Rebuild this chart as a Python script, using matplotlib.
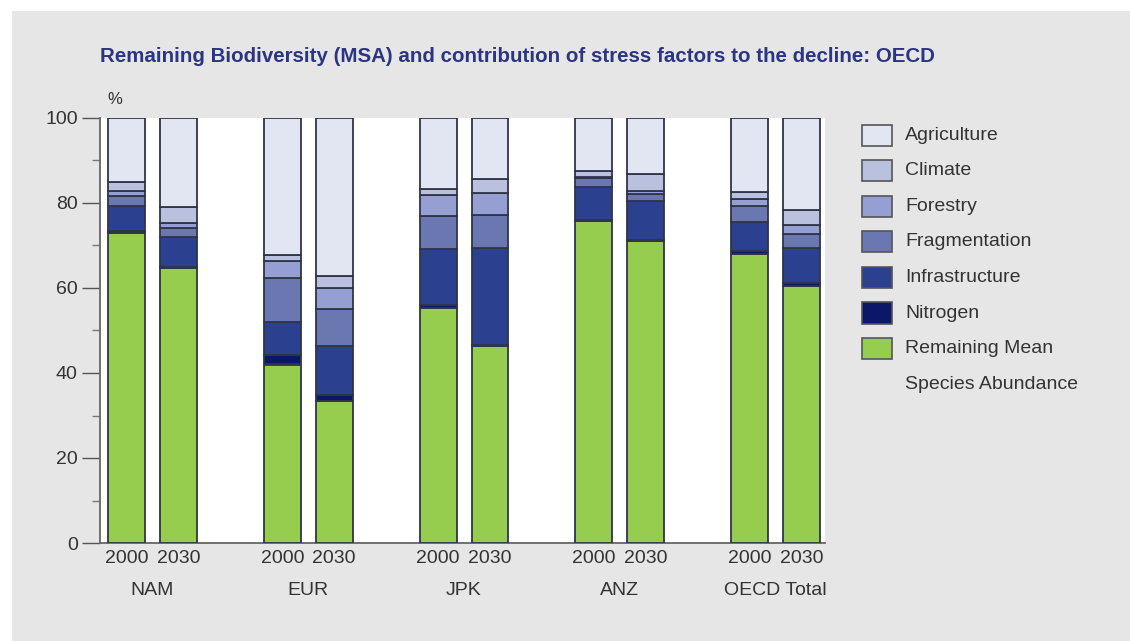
import matplotlib
matplotlib.use("Agg")
import matplotlib.pyplot as plt
from matplotlib.patches import Rectangle
from matplotlib.ticker import MultipleLocator
import numpy as np

plt.rcParams['font.family'] = ['Liberation Sans', 'DejaVu Sans']

# Regions and scenario years
regions = ["NAM", "EUR", "JPK", "ANZ", "OECD Total"]
years = ["2000", "2030"]

# Contribution of each component (% of original MSA), one value per bar:
# NAM 2000, NAM 2030, EUR 2000, EUR 2030, JPK 2000, JPK 2030, ANZ 2000, ANZ 2030, OECD 2000, OECD 2030
remaining_msa = [72.9, 64.6, 42.0, 33.5, 55.4, 46.3, 75.7, 71.0, 68.1, 60.5]
nitrogen = [0.5, 0.4, 2.3, 1.4, 0.6, 0.4, 0.3, 0.3, 0.6, 0.6]
infrastructure = [5.9, 7.0, 7.8, 11.4, 13.1, 22.8, 7.7, 9.1, 6.8, 8.3]
fragmentation = [2.4, 2.0, 10.2, 8.8, 7.8, 7.6, 2.1, 1.8, 3.8, 3.4]
forestry = [1.2, 1.4, 4.0, 5.0, 4.9, 5.2, 0.4, 0.7, 1.7, 2.1]
climate = [2.0, 3.7, 1.4, 2.8, 1.4, 3.4, 1.4, 4.0, 1.7, 3.4]
agriculture = [15.1, 20.9, 32.3, 37.1, 16.8, 14.3, 12.4, 13.1, 17.3, 21.7]

series = [
    ("Remaining Mean\nSpecies Abundance", remaining_msa, "#97cd4f"),
    ("Nitrogen", nitrogen, "#0b1868"),
    ("Infrastructure", infrastructure, "#2b4190"),
    ("Fragmentation", fragmentation, "#6a77b0"),
    ("Forestry", forestry, "#959fd1"),
    ("Climate", climate, "#bac1df"),
    ("Agriculture", agriculture, "#e2e6f3"),
]

W, H = 1130, 641
fig = plt.figure(figsize=(W / 100, H / 100), dpi=100, facecolor="white")

# grey panel behind everything
fig.add_artist(Rectangle((12 / W, 0), 1 - 12 / W, 1 - 11 / H,
                         transform=fig.transFigure, facecolor="#e6e6e6",
                         edgecolor="none", zorder=-10))

ax = fig.add_axes([100 / W, 1 - 543 / H, (825 - 100) / W, (543 - 118) / H])
ax.set_facecolor("white")

# bar positions: pairs of years, groups spaced three units apart
positions = []
for g in range(len(regions)):
    positions += [3 * g - 0.5, 3 * g + 0.5]
positions = np.array(positions)

bottom = np.zeros(len(positions))
for name, vals, col in series:
    vals = np.array(vals)
    ax.bar(positions, vals, bottom=bottom, width=0.71, color=col,
           edgecolor="#2f3548", linewidth=1.3, zorder=3)
    bottom += vals

ax.set_xlim(-1.01, 12.95)
ax.set_ylim(0, 100)
ax.yaxis.set_major_locator(MultipleLocator(20))
ax.yaxis.set_minor_locator(MultipleLocator(10))
ax.tick_params(axis="y", which="major", length=13, width=1.0, color="#555555",
               labelsize=14, labelcolor="#333333", pad=3)
ax.tick_params(axis="y", which="minor", length=6, width=1.0, color="#777777")
ax.set_xticks(positions)
ax.set_xticklabels(years * len(regions))
ax.tick_params(axis="x", length=0, labelsize=14, labelcolor="#333333", pad=5)

for side in ("top", "right"):
    ax.spines[side].set_visible(False)
for side in ("left", "bottom"):
    ax.spines[side].set_color("#666666")
    ax.spines[side].set_linewidth(1.3)

# region names under the year labels
for g, reg in enumerate(regions):
    ax.text(3 * g, -11.2, reg, ha="center", va="center", fontsize=14,
            color="#333333", transform=ax.transData, clip_on=False)

ax.text(107 / W, 1 - 100 / H, "%", transform=fig.transFigure, fontsize=12,
        color="#333333", ha="left", va="center")

fig.text(100 / W, 1 - 57 / H,
         "Remaining Biodiversity (MSA) and contribution of stress factors to the decline: OECD",
         fontsize=14.8, fontweight="bold", color="#2b3582", ha="left", va="center")

# legend, top entry first
legend_items = list(reversed(series))
for i, (name, vals, col) in enumerate(legend_items):
    yc = 135 + 35.6 * i
    fig.add_artist(Rectangle((862 / W, 1 - (yc + 10.5) / H), 30 / W, 21 / H,
                             transform=fig.transFigure, facecolor=col,
                             edgecolor="#555555", linewidth=1.2))
    for j, line in enumerate(name.split("\n")):
        fig.text(905 / W, 1 - (yc + 35.6 * j) / H, line, fontsize=14,
                 color="#333333", ha="left", va="center")

fig.savefig("out.png", dpi=100, facecolor="white")
